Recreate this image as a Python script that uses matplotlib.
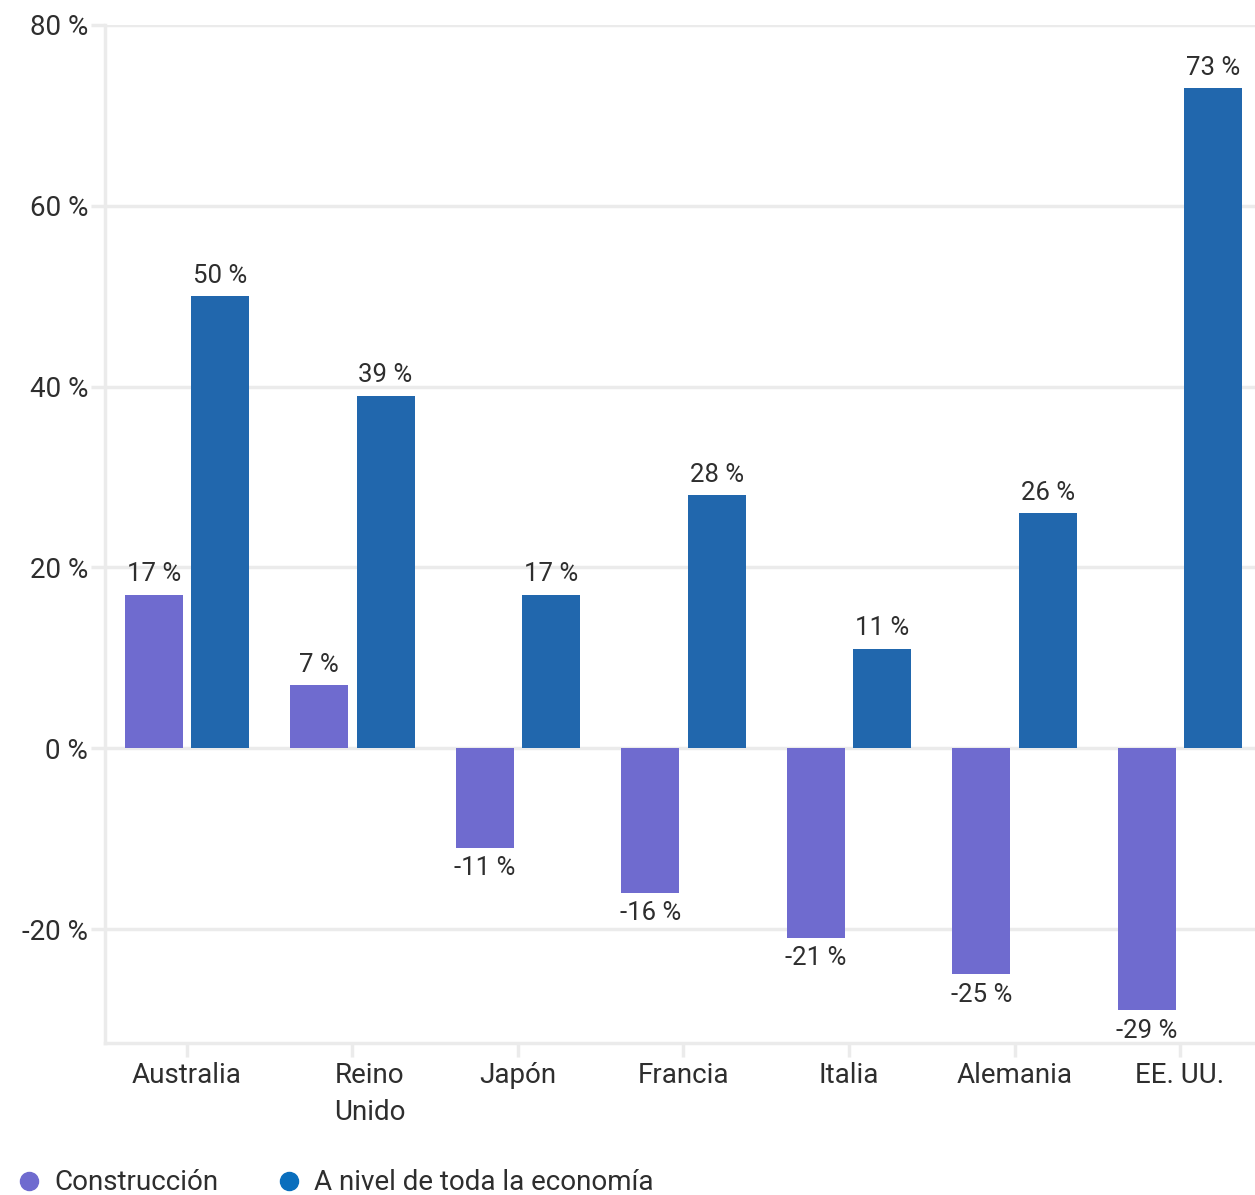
import matplotlib
matplotlib.use("Agg")
import matplotlib.pyplot as plt
import matplotlib.transforms as mtransforms
from matplotlib.lines import Line2D
import numpy as np

plt.rcParams['font.family'] = ['Roboto', 'DejaVu Sans']

countries = ["Australia", "Reino\nUnido", "Japón", "Francia", "Italia", "Alemania", "EE. UU."]
construccion = [17, 7, -11, -16, -21, -25, -29]
economia = [50, 39, 17, 28, 11, 26, 73]
series_names = ["Construcción", "A nivel de toda la economía"]
y_ticks = [-20, 0, 20, 40, 60, 80]

PURPLE = "#6F6BCF"
BLUE = "#2167AD"
DOT_BLUE = "#0A6EBD"
GRID = "#EBEBEB"
TEXT = "#2E2E2E"

fig = plt.figure(figsize=(12.55, 11.95), dpi=100)
ax = fig.add_axes([105 / 1255, 1 - 1043 / 1195, 1 - 105 / 1255, (1043 - 25) / 1195])

x = np.arange(len(countries))
w = 0.35
ax.bar(x - 0.2, construccion, w, color=PURPLE, zorder=3)
ax.bar(x + 0.2, economia, w, color=BLUE, zorder=3)

for xi, v in zip(x - 0.2, construccion):
    ax.annotate(f"{v} %", (xi, v), xytext=(0, 6 if v >= 0 else -6), textcoords="offset points",
                ha="center", va="bottom" if v >= 0 else "top", fontsize=18.5, color=TEXT)
for xi, v in zip(x + 0.2, economia):
    ax.annotate(f"{v} %", (xi, v), xytext=(0, 6), textcoords="offset points",
                ha="center", va="bottom", fontsize=18.5, color=TEXT)

ax.set_xlim(-0.495, 6.453)
ax.set_ylim(-32.6, 80)
ax.set_yticks(y_ticks)
ax.set_yticklabels([f"{t} %" for t in y_ticks])
ax.set_xticks(x)
ax.set_xticklabels(countries, linespacing=1.45)
ax.yaxis.grid(True, color=GRID, linewidth=2.5, zorder=0)
ax.tick_params(axis="y", length=10, width=2.5, color=GRID, labelsize=20, labelcolor=TEXT, pad=2)
ax.tick_params(axis="x", length=10, width=2.5, color=GRID, labelsize=20, labelcolor=TEXT, pad=4)
for side in ["top", "right"]:
    ax.spines[side].set_visible(False)
for side in ["left", "bottom"]:
    ax.spines[side].set_color(GRID)
    ax.spines[side].set_linewidth(2.5)

# the two-line label sits left-aligned, just left of its tick
uk = ax.get_xticklabels()[1]
uk.set_ha("left")
uk.set_multialignment("left")
uk.set_transform(uk.get_transform() + mtransforms.ScaledTranslation(-18 / 100, 0, fig.dpi_scale_trans))

handles = [Line2D([], [], marker="o", linestyle="", markersize=13, color=c) for c in (PURPLE, DOT_BLUE)]
fig.legend(handles, series_names, loc="lower left", bbox_to_anchor=(-0.0075, -0.022), ncol=2,
           frameon=False, fontsize=20, handlelength=1.0, handletextpad=0.4, columnspacing=2.05,
           labelcolor=TEXT)

fig.savefig("out.png", dpi=100)
